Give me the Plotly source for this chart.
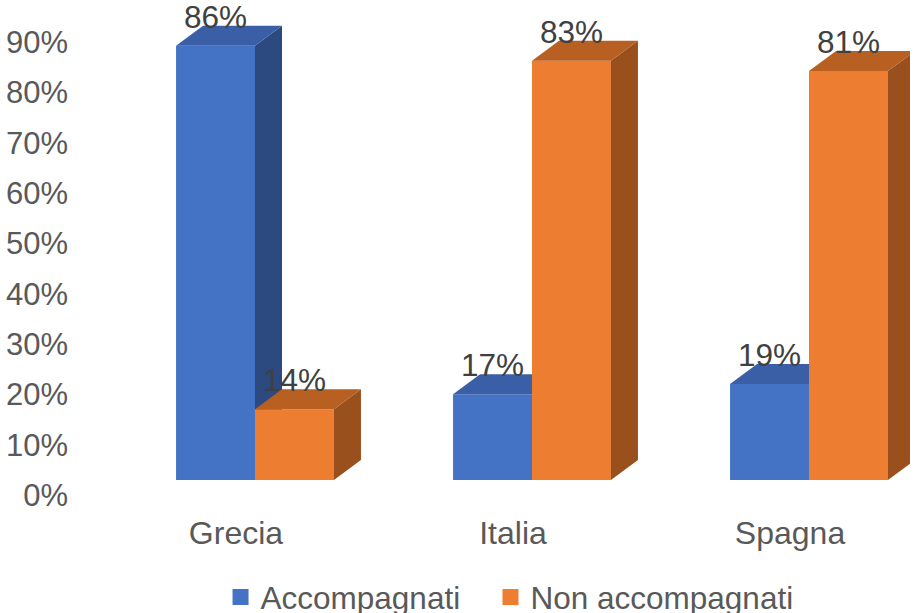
import plotly.graph_objects as go

# Data
categories = ["Grecia", "Italia", "Spagna"]
accompagnati = [0.86, 0.17, 0.19]
non_accompagnati = [0.14, 0.83, 0.81]
series_names = ["Accompagnati", "Non accompagnati"]
y_ticks = [0.0, 0.1, 0.2, 0.3, 0.4, 0.5, 0.6, 0.7, 0.8, 0.9]

# Styling of the pseudo-3D columns
BAR_W = 0.285      # width of each column front (category units)
DEPTH_X = 0.0975   # depth offset along x (category units)
DEPTH_Y = 0.0396   # depth offset along y (value units on the bar axis)
LABEL_LIFT = 0.051 # data-label height above the column front top
LABEL_SHIFT = -0.0686  # category label shift

palette = {
    "Accompagnati": {"front": "#4472C4", "top": "#3A5FA6", "side": "#2C4A80"},
    "Non accompagnati": {"front": "#ED7D31", "top": "#B85F22", "side": "#9A501C"},
}
FONT = "Liberation Sans, Arial, sans-serif"


def polys(rects):
    xs, ys = [], []
    for pts in rects:
        for (px, py) in pts + [pts[0]]:
            xs.append(px)
            ys.append(py)
        xs.append(None)
        ys.append(None)
    return xs, ys


fig = go.Figure()

# Legend entries, one legend box per series (also anchor the labelled value axis)
for name, legend_id in zip(series_names, ["legend", "legend2"]):
    fig.add_trace(go.Scatter(
        x=[None], y=[None], mode="markers", name=name,
        marker=dict(symbol="square", size=17, color=palette[name]["front"]),
        yaxis="y", legend=legend_id,
    ))

label_x, label_y, label_t = [], [], []
for name, values, left_off in [
    (series_names[0], accompagnati, -BAR_W),
    (series_names[1], non_accompagnati, 0.0),
]:
    fronts, sides, tops = [], [], []
    for i, v in enumerate(values):
        x0 = i + left_off
        x1 = x0 + BAR_W
        fronts.append([(x0, 0), (x1, 0), (x1, v), (x0, v)])
        sides.append([(x1, 0), (x1 + DEPTH_X, DEPTH_Y), (x1 + DEPTH_X, v + DEPTH_Y), (x1, v)])
        tops.append([(x0, v), (x1, v), (x1 + DEPTH_X, v + DEPTH_Y), (x0 + DEPTH_X, v + DEPTH_Y)])
        label_x.append((x0 + x1) / 2)
        label_y.append(v + LABEL_LIFT)
        label_t.append(f"{round(v * 100)}%")
    for face, shapes in [("front", fronts), ("side", sides), ("top", tops)]:
        xs, ys = polys(shapes)
        fig.add_trace(go.Scatter(
            x=xs, y=ys, mode="lines", fill="toself",
            fillcolor=palette[name][face], line=dict(width=0),
            hoverinfo="skip", showlegend=False, yaxis="y2",
        ))

# Data labels
fig.add_trace(go.Scatter(
    x=label_x, y=label_y, mode="text", text=label_t,
    textposition="middle center",
    textfont=dict(size=31.5, color="#404040", family=FONT),
    showlegend=False, hoverinfo="skip", yaxis="y2", cliponaxis=False,
))

legend_style = dict(
    orientation="h", y=-0.171, yanchor="middle", xanchor="left",
    font=dict(size=31.5, color="#595959"), itemwidth=30,
    bgcolor="rgba(0,0,0,0)",
)

fig.update_layout(
    width=916, height=613,
    margin=dict(l=75, r=6, t=8, b=102, autoexpand=False),
    plot_bgcolor="white", paper_bgcolor="white",
    font=dict(family=FONT, size=31, color="#595959"),
    xaxis=dict(
        range=[-0.6498, 2.3646],
        tickvals=[i + LABEL_SHIFT for i in range(len(categories))],
        ticktext=categories,
        showgrid=False, zeroline=False, showline=False, ticks="",
        tickfont=dict(size=32, color="#595959"),
    ),
    yaxis=dict(
        range=[-0.03181, 0.9682],
        tickvals=y_ticks, tickformat=".0%",
        showgrid=False, zeroline=False, showline=False, ticks="",
        tickfont=dict(size=31, color="#595959"),
        ticklabelstandoff=6,
    ),
    yaxis2=dict(
        range=[-0.06139, 0.9347], overlaying="y",
        visible=False, showgrid=False, zeroline=False,
    ),
    legend=dict(x=0.1743, **legend_style),
    legend2=dict(x=0.4976, **legend_style),
)

fig.write_html("out.html")
